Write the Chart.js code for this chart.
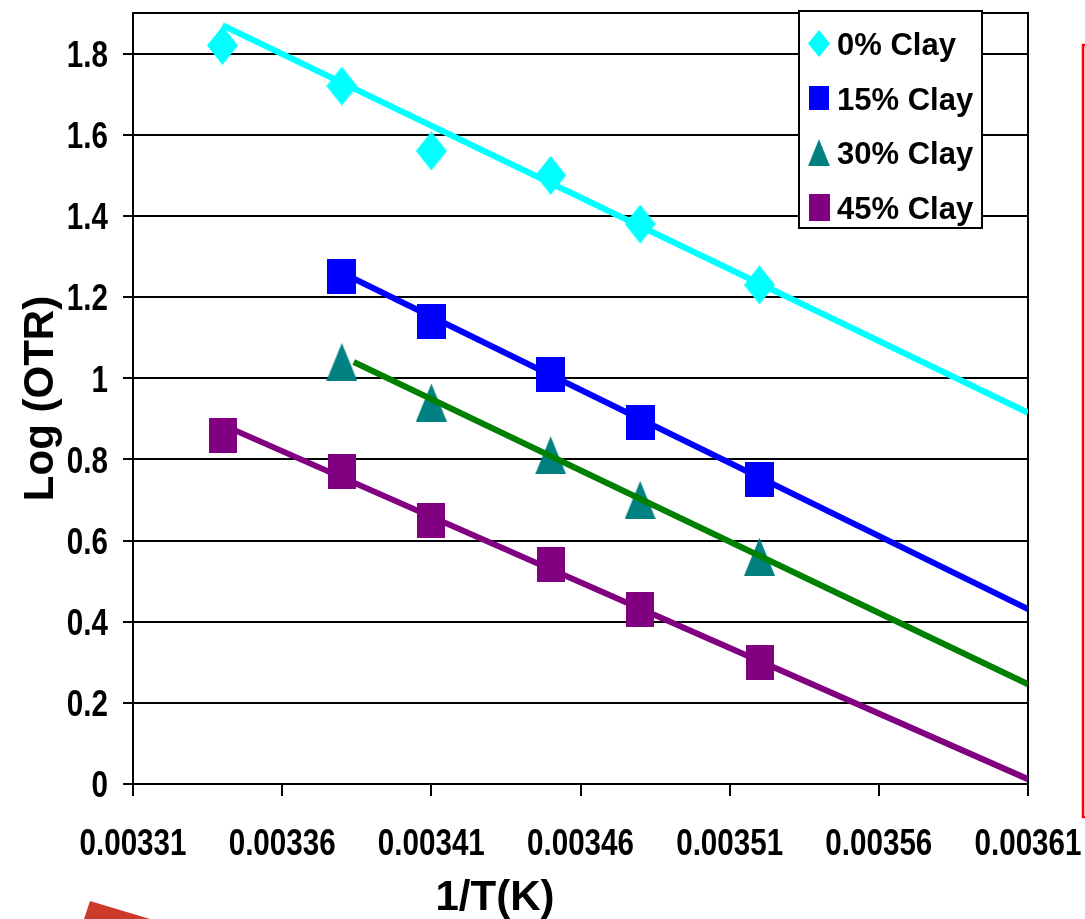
<!DOCTYPE html>
<html>
<head>
<meta charset="utf-8">
<title>Log (OTR) vs 1/T</title>
<script src="https://cdn.jsdelivr.net/npm/chart.js@4/dist/chart.umd.min.js"></script>
<style>
  html, body { margin: 0; padding: 0; background: #ffffff; }
  #wrap { position: relative; width: 1085px; height: 919px; }
</style>
</head>
<body>
<div id="wrap"><canvas id="chart"></canvas></div>
<script>
// Inverse temperature (1/K) of each measurement
const invT = [0.00334, 0.00338, 0.00341, 0.00345, 0.00348, 0.00352];

// Series names
const seriesNames = ['0% Clay', '15% Clay', '30% Clay', '45% Clay'];

// Log(OTR) measurements per clay content
const otr0  = [1.82, 1.72, 1.56, 1.50, 1.38, 1.23];   // invT[0..5]
const otr15 = [1.25, 1.14, 1.01, 0.89, 0.75];         // invT[1..5]
const otr30 = [1.04, 0.94, 0.81, 0.70, 0.56];         // invT[1..5]
const otr45 = [0.86, 0.77, 0.65, 0.54, 0.43, 0.30];   // invT[0..5]

// Linear trend lines (start and end points)
const fitX0  = [0.00334, 0.00361];  const fitY0  = [1.87, 0.915];
const fitX15 = [0.00338, 0.00361];  const fitY15 = [1.26, 0.431];
const fitX30 = [0.003384, 0.00361]; const fitY30 = [1.04, 0.246];
const fitX45 = [0.00334, 0.00361];  const fitY45 = [0.885, 0.012];

// Axis ticks
const xTicks = [0.00331, 0.00336, 0.00341, 0.00346, 0.00351, 0.00356, 0.00361];
const xTickLabels = ['0.00331', '0.00336', '0.00341', '0.00346', '0.00351', '0.00356', '0.00361'];
const yTicks = [0, 0.2, 0.4, 0.6, 0.8, 1, 1.2, 1.4, 1.6, 1.8];
const yTickLabels = ['0', '0.2', '0.4', '0.6', '0.8', '1', '1.2', '1.4', '1.6', '1.8'];

const xTitle = '1/T(K)';
const yTitle = 'Log (OTR)';

const COLORS = {
  c0: '#00FFFF', c15: '#0000FF', c30: '#008080', c45: '#800080',
  fit0: '#00FFFF', fit15: '#0000FF', fit30: '#008000', fit45: '#800080'
};

const BOLD = "'Liberation Sans', Arial, Helvetica, sans-serif";

// Marker bitmaps (slightly taller than wide)
function makeMarker(shape, w, h, color) {
  const c = document.createElement('canvas');
  c.width = w; c.height = h;
  const g = c.getContext('2d');
  g.fillStyle = color;
  g.beginPath();
  if (shape === 'diamond') {
    g.moveTo(w / 2, 0); g.lineTo(w, h / 2); g.lineTo(w / 2, h); g.lineTo(0, h / 2);
  } else if (shape === 'triangle') {
    g.moveTo(w / 2, 0); g.lineTo(w, h); g.lineTo(0, h);
  } else {
    g.rect(0, 0, w, h);
  }
  g.closePath();
  g.fill();
  return c;
}

const markers = [
  makeMarker('diamond', 31, 39, COLORS.c0),
  makeMarker('rect', 29, 35, COLORS.c15),
  makeMarker('triangle', 31, 38, COLORS.c30),
  makeMarker('rect', 28, 35, COLORS.c45)
];
const legendMarkers = [
  makeMarker('diamond', 22, 27, COLORS.c0),
  makeMarker('rect', 20, 24, COLORS.c15),
  makeMarker('triangle', 22, 27, COLORS.c30),
  makeMarker('rect', 21, 27, COLORS.c45)
];

const pts = (xs, ys) => ys.map((y, i) => ({ x: xs[i], y: y }));

function scatterSet(label, xs, ys, marker) {
  return {
    label: label, data: pts(xs, ys), showLine: false,
    pointStyle: marker, pointRadius: 16, pointHoverRadius: 16,
    borderColor: 'transparent', backgroundColor: 'transparent', order: 1
  };
}
function fitSet(xs, ys, color) {
  return {
    label: '', data: pts(xs, ys), showLine: true, borderColor: color,
    borderWidth: 6, pointRadius: 0, pointHoverRadius: 0, fill: false, order: 0
  };
}

// Condensed bold text (tick labels are narrower than the title font)
const TICK_FONT = 'bold 37px ' + BOLD;
const SQUEEZE = 0.8;
function squeezedText(ctx, text, x, y, align) {
  ctx.save();
  ctx.translate(x, y);
  ctx.scale(SQUEEZE, 1);
  ctx.textAlign = align;
  ctx.fillText(text, 0, 0);
  ctx.restore();
}

// Plot frame, tick labels, own legend, axis title and margin marks
const decorPlugin = {
  id: 'decor',
  beforeDraw(chart) {
    const ctx = chart.ctx;
    ctx.save();
    ctx.fillStyle = '#ffffff';
    ctx.fillRect(0, 0, chart.width, chart.height);
    ctx.restore();
  },
  beforeDatasetsDraw(chart) {
    const { ctx, chartArea: a } = chart;
    ctx.save();
    ctx.strokeStyle = '#000000';
    ctx.lineWidth = 2;
    ctx.beginPath();
    ctx.moveTo(a.left, a.top); ctx.lineTo(a.right, a.top); ctx.lineTo(a.right, a.bottom);
    ctx.stroke();
    ctx.restore();
  },
  afterDraw(chart) {
    const ctx = chart.ctx;
    const xs = chart.scales.x, ys = chart.scales.y;
    ctx.save();
    // tick labels
    ctx.font = TICK_FONT;
    ctx.fillStyle = '#000000';
    ctx.textBaseline = 'alphabetic';
    xTicks.forEach((v, i) => squeezedText(ctx, xTickLabels[i], xs.getPixelForValue(v), 855, 'center'));
    yTicks.forEach((v, i) => squeezedText(ctx, yTickLabels[i], 108, ys.getPixelForValue(v) + 13.3, 'right'));
    // legend box
    const lx = 799, ly = 11, lw = 183, lh = 217;
    ctx.fillStyle = '#ffffff';
    ctx.fillRect(lx, ly, lw, lh);
    ctx.strokeStyle = '#000000';
    ctx.lineWidth = 2;
    ctx.strokeRect(lx, ly, lw, lh);
    ctx.font = 'bold 31px ' + BOLD;
    ctx.fillStyle = '#000000';
    ctx.textAlign = 'left';
    seriesNames.forEach((name, i) => {
      const cy = 43.5 + i * 54.6;
      const m = legendMarkers[i];
      ctx.drawImage(m, 819 - m.width / 2, cy - m.height / 2);
      ctx.fillText(name, 837, cy + 11.5);
    });
    // x-axis title
    ctx.font = 'bold 42px ' + BOLD;
    ctx.textAlign = 'center';
    ctx.fillText(xTitle, 495, 910);
    // margin marks
    ctx.strokeStyle = '#ff0000';
    ctx.lineWidth = 2.5;
    ctx.strokeRect(1083, 45, 60, 772);
    ctx.fillStyle = '#cc3a2a';
    ctx.beginPath();
    ctx.moveTo(90, 901); ctx.lineTo(150, 919); ctx.lineTo(84, 919);
    ctx.closePath();
    ctx.fill();
    ctx.restore();
  }
};

new Chart(document.getElementById('chart'), {
  type: 'scatter',
  data: {
    datasets: [
      scatterSet(seriesNames[0], invT, otr0, markers[0]),
      scatterSet(seriesNames[1], invT.slice(1), otr15, markers[1]),
      scatterSet(seriesNames[2], invT.slice(1), otr30, markers[2]),
      scatterSet(seriesNames[3], invT, otr45, markers[3]),
      fitSet(fitX0, fitY0, COLORS.fit0),
      fitSet(fitX15, fitY15, COLORS.fit15),
      fitSet(fitX30, fitY30, COLORS.fit30),
      fitSet(fitX45, fitY45, COLORS.fit45)
    ]
  },
  options: {
    responsive: true,
    maintainAspectRatio: false,
    animation: false,
    layout: { autoPadding: false, padding: { top: 13, right: 57, left: 0, bottom: 0 } },
    plugins: { legend: { display: false }, tooltip: { enabled: false } },
    scales: {
      x: {
        type: 'linear',
        min: xTicks[0], max: xTicks[xTicks.length - 1],
        afterBuildTicks(scale) { scale.ticks = xTicks.map(v => ({ value: v })); },
        afterFit(scale) { scale.height = 135; },
        grid: { display: true, drawOnChartArea: false, drawTicks: true, tickLength: 12, color: '#000000', lineWidth: 2 },
        border: { display: true, color: '#000000', width: 2 },
        ticks: { display: false, autoSkip: false, maxRotation: 0 }
      },
      y: {
        type: 'linear',
        min: 0, max: 1.9,
        afterBuildTicks(scale) { scale.ticks = yTicks.map(v => ({ value: v })); },
        afterFit(scale) { scale.width = 133; },
        grid: { display: true, drawOnChartArea: true, drawTicks: true, tickLength: 10, color: '#000000', lineWidth: 2 },
        border: { display: true, color: '#000000', width: 2 },
        title: {
          display: true, text: yTitle, color: '#000000',
          font: { family: BOLD, size: 42, weight: 'bold', lineHeight: 1.2 },
          padding: { top: 16, bottom: 0 }
        },
        ticks: { display: false, autoSkip: false }
      }
    }
  },
  plugins: [decorPlugin]
});
</script>
</body>
</html>
